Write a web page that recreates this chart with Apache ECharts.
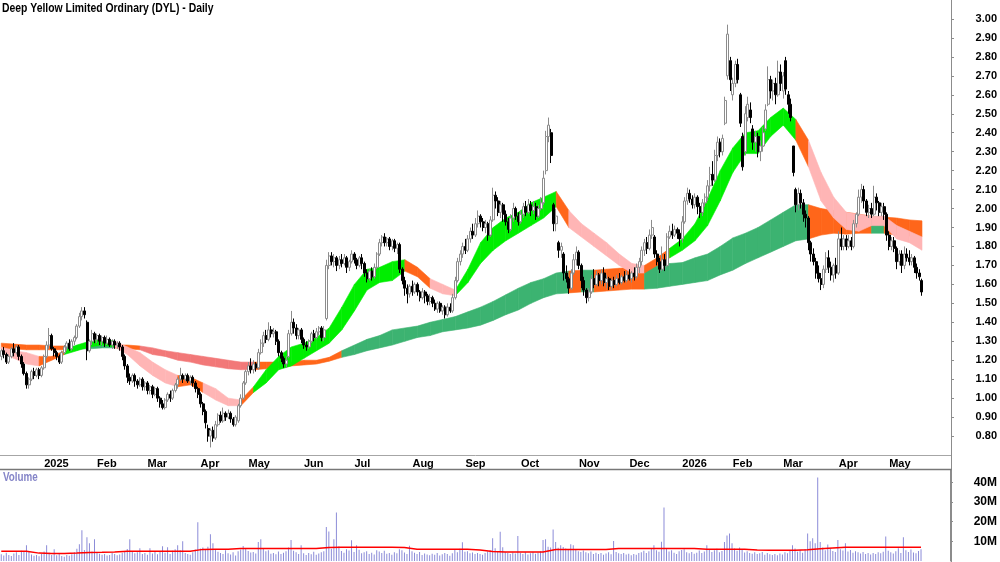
<!DOCTYPE html>
<html>
<head>
<meta charset="utf-8">
<script src="https://cdn.jsdelivr.net/npm/echarts@6/dist/echarts.min.js"></script>
<style>
html, body { margin: 0; padding: 0; background: #fff; }
#chart { width: 1000px; height: 562px; }
</style>
</head>
<body>
<div id="chart"></div>
<script>
// axis labels
const monthNames = ['Jan', 'Feb', 'Mar', 'Apr', 'May', 'Jun', 'Jul', 'Aug', 'Sep', 'Oct', 'Nov', 'Dec'];
// ASX closed days inside the range
const holidays = ['2024-12-25', '2024-12-26', '2025-01-01', '2025-01-27', '2025-04-18', '2025-04-21',
  '2025-04-25', '2025-06-09', '2025-12-25', '2025-12-26', '2026-01-01', '2026-01-26', '2026-04-03',
  '2026-04-06', '2026-06-08'];
const firstDay = '2024-12-05';
const axisDays = 377; // includes the empty room after the last bar

// daily candles: [open, close, low, high]
const ohlc = [
  [1.22,1.25,1.20,1.26],[1.25,1.23,1.21,1.27],[1.23,1.19,1.18,1.24],[1.19,1.22,1.18,1.23],[1.22,1.26,1.21,1.27],[1.26,1.24,1.22,1.29],[1.24,1.27,1.23,1.28],[1.27,1.22,1.20,1.28],[1.22,1.18,1.16,1.23],[1.18,1.13,1.12,1.19],
  [1.13,1.07,1.05,1.14],[1.07,1.10,1.05,1.11],[1.10,1.14,1.09,1.15],[1.14,1.12,1.10,1.16],[1.12,1.15,1.11,1.16],[1.15,1.12,1.10,1.16],[1.12,1.16,1.11,1.17],[1.16,1.22,1.15,1.23],[1.22,1.28,1.21,1.30],[1.28,1.33,1.26,1.37],
  [1.33,1.26,1.25,1.34],[1.26,1.24,1.22,1.27],[1.24,1.22,1.20,1.25],[1.22,1.19,1.18,1.23],[1.19,1.24,1.18,1.25],[1.24,1.27,1.23,1.28],[1.27,1.29,1.25,1.30],[1.29,1.26,1.25,1.31],[1.26,1.30,1.25,1.31],[1.30,1.32,1.28,1.33],
  [1.32,1.38,1.31,1.39],[1.38,1.43,1.37,1.45],[1.43,1.46,1.41,1.48],[1.46,1.44,1.42,1.48],[1.40,1.25,1.20,1.41],[1.25,1.30,1.24,1.31],[1.30,1.34,1.28,1.36],[1.34,1.31,1.29,1.35],[1.31,1.33,1.29,1.34],[1.33,1.30,1.28,1.34],
  [1.30,1.32,1.28,1.33],[1.32,1.29,1.27,1.33],[1.29,1.31,1.28,1.33],[1.31,1.28,1.27,1.32],[1.28,1.30,1.26,1.31],[1.30,1.28,1.26,1.31],[1.28,1.29,1.26,1.30],[1.29,1.27,1.25,1.30],[1.27,1.22,1.20,1.28],[1.22,1.17,1.15,1.23],
  [1.17,1.11,1.08,1.18],[1.11,1.09,1.07,1.13],[1.09,1.12,1.08,1.13],[1.12,1.09,1.06,1.13],[1.09,1.07,1.05,1.10],[1.07,1.10,1.06,1.11],[1.10,1.06,1.04,1.11],[1.06,1.08,1.04,1.09],[1.08,1.04,1.02,1.09],[1.04,1.06,1.02,1.07],
  [1.06,1.02,1.00,1.07],[1.02,1.05,1.01,1.06],[1.05,1.00,0.98,1.06],[1.00,0.97,0.95,1.01],[0.97,0.95,0.94,0.99],[0.95,0.99,0.94,1.00],[0.99,1.02,0.98,1.03],[1.02,1.00,0.98,1.04],[1.00,1.04,0.99,1.05],[1.04,1.07,1.03,1.08],
  [1.07,1.10,1.05,1.11],[1.10,1.12,1.09,1.16],[1.12,1.10,1.08,1.13],[1.10,1.12,1.09,1.13],[1.12,1.09,1.08,1.13],[1.09,1.11,1.07,1.12],[1.11,1.08,1.06,1.12],[1.08,1.05,1.03,1.09],[1.05,1.02,1.00,1.06],[1.02,0.97,0.95,1.03],
  [0.97,0.93,0.91,0.98],[0.93,0.87,0.84,0.94],[0.84,0.80,0.77,0.86],[0.80,0.83,0.74,0.84],[0.83,0.79,0.77,0.85],[0.79,0.86,0.78,0.88],[0.86,0.91,0.85,0.92],[0.91,0.88,0.87,0.93],[0.88,0.92,0.87,0.95],[0.92,0.90,0.88,0.93],
  [0.90,0.92,0.89,0.94],[0.92,0.89,0.87,0.93],[0.89,0.86,0.85,0.90],[0.86,0.90,0.85,0.91],[0.88,0.96,0.87,0.97],[0.96,1.00,0.95,1.02],[1.00,1.08,0.99,1.09],[1.08,1.14,1.07,1.15],[1.14,1.17,1.12,1.19],[1.17,1.15,1.13,1.21],
  [1.15,1.18,1.13,1.20],[1.18,1.16,1.14,1.19],[1.16,1.24,1.15,1.26],[1.24,1.29,1.23,1.31],[1.29,1.33,1.27,1.35],[1.33,1.31,1.29,1.36],[1.31,1.36,1.30,1.40],[1.36,1.34,1.32,1.38],[1.34,1.35,1.32,1.37],[1.35,1.30,1.28,1.36],
  [1.30,1.24,1.22,1.31],[1.24,1.21,1.19,1.25],[1.21,1.18,1.16,1.22],[1.18,1.20,1.16,1.22],[1.22,1.34,1.21,1.36],[1.34,1.40,1.33,1.46],[1.40,1.37,1.34,1.42],[1.37,1.33,1.31,1.39],[1.33,1.36,1.31,1.37],[1.36,1.31,1.29,1.37],
  [1.31,1.28,1.26,1.32],[1.28,1.27,1.25,1.30],[1.27,1.30,1.26,1.31],[1.30,1.34,1.29,1.35],[1.34,1.32,1.30,1.36],[1.32,1.35,1.31,1.37],[1.35,1.37,1.33,1.38],[1.37,1.32,1.30,1.38],[1.32,1.36,1.30,1.38],[1.42,1.70,1.41,1.73],
  [1.70,1.75,1.68,1.77],[1.75,1.72,1.70,1.77],[1.72,1.74,1.69,1.76],[1.74,1.70,1.67,1.75],[1.70,1.73,1.68,1.75],[1.73,1.71,1.69,1.76],[1.71,1.74,1.70,1.76],[1.74,1.69,1.66,1.75],[1.69,1.72,1.67,1.73],[1.72,1.76,1.71,1.78],
  [1.76,1.73,1.71,1.77],[1.73,1.70,1.68,1.74],[1.70,1.74,1.69,1.75],[1.74,1.71,1.68,1.76],[1.71,1.66,1.64,1.72],[1.66,1.63,1.61,1.68],[1.63,1.67,1.62,1.68],[1.67,1.64,1.62,1.69],[1.64,1.69,1.63,1.71],[1.69,1.76,1.68,1.77],
  [1.76,1.82,1.75,1.84],[1.82,1.85,1.80,1.86],[1.85,1.82,1.80,1.87],[1.82,1.84,1.80,1.85],[1.84,1.80,1.78,1.85],[1.80,1.83,1.78,1.84],[1.83,1.79,1.77,1.84],[1.79,1.81,1.76,1.82],[1.81,1.68,1.66,1.82],[1.68,1.62,1.60,1.69],
  [1.62,1.58,1.54,1.64],[1.58,1.55,1.50,1.60],[1.55,1.59,1.53,1.60],[1.59,1.56,1.54,1.62],[1.56,1.60,1.55,1.61],[1.60,1.56,1.54,1.61],[1.56,1.53,1.51,1.57],[1.53,1.56,1.52,1.58],[1.56,1.54,1.50,1.57],[1.54,1.51,1.49,1.55],
  [1.51,1.53,1.49,1.55],[1.53,1.50,1.48,1.54],[1.50,1.47,1.46,1.52],[1.47,1.50,1.45,1.51],[1.50,1.46,1.45,1.51],[1.46,1.48,1.44,1.49],[1.48,1.44,1.42,1.49],[1.44,1.48,1.43,1.50],[1.48,1.46,1.45,1.50],[1.46,1.53,1.45,1.55],
  [1.53,1.62,1.52,1.64],[1.62,1.72,1.61,1.74],[1.72,1.76,1.70,1.78],[1.76,1.80,1.74,1.82],[1.80,1.78,1.76,1.84],[1.78,1.84,1.77,1.86],[1.84,1.88,1.82,1.90],[1.88,1.86,1.84,1.92],[1.86,1.92,1.85,1.95],[1.92,1.96,1.90,1.99],
  [1.96,1.93,1.90,1.97],[1.93,1.90,1.88,1.95],[1.90,1.92,1.87,1.94],[1.92,1.86,1.83,1.93],[1.86,1.94,1.85,1.96],[1.94,2.07,1.93,2.11],[2.07,2.04,2.00,2.09],[2.04,1.98,1.96,2.06],[1.98,2.02,1.95,2.04],[2.02,1.97,1.93,2.03],
  [1.97,1.93,1.91,1.99],[1.93,1.89,1.87,1.95],[1.89,1.95,1.88,1.97],[1.95,2.00,1.93,2.03],[2.00,1.96,1.94,2.01],[1.96,1.93,1.91,1.98],[1.93,1.97,1.92,1.99],[1.97,2.01,1.95,2.03],[2.01,1.98,1.96,2.04],[1.98,2.02,1.97,2.05],
  [2.02,1.99,1.96,2.04],[1.99,2.01,1.97,2.04],[2.01,1.96,1.94,2.03],[1.96,2.00,1.95,2.02],[2.00,2.03,1.99,2.06],[2.03,2.16,2.02,2.20],[2.20,2.38,2.18,2.41],[2.38,2.44,2.35,2.48],[2.40,2.28,2.24,2.42],[2.02,1.92,1.88,2.03],
  [1.92,1.96,1.88,2.00],[1.82,1.78,1.74,1.83],[1.78,1.80,1.74,1.82],[1.76,1.66,1.62,1.77],[1.66,1.63,1.61,1.70],[1.63,1.58,1.55,1.64],[1.58,1.66,1.57,1.68],[1.66,1.73,1.65,1.76],[1.73,1.77,1.70,1.80],[1.77,1.70,1.68,1.78],
  [1.70,1.62,1.58,1.71],[1.62,1.57,1.54,1.64],[1.57,1.53,1.50,1.58],[1.53,1.56,1.51,1.58],[1.56,1.63,1.55,1.65],[1.63,1.60,1.58,1.68],[1.60,1.65,1.59,1.67],[1.65,1.62,1.59,1.66],[1.62,1.66,1.60,1.68],[1.66,1.61,1.59,1.69],
  [1.61,1.63,1.58,1.65],[1.63,1.59,1.57,1.64],[1.59,1.62,1.57,1.63],[1.62,1.60,1.58,1.64],[1.60,1.63,1.59,1.65],[1.63,1.61,1.60,1.66],[1.61,1.64,1.60,1.65],[1.64,1.62,1.61,1.67],[1.62,1.65,1.61,1.67],[1.65,1.63,1.62,1.68],
  [1.63,1.66,1.61,1.67],[1.66,1.64,1.62,1.69],[1.64,1.69,1.63,1.71],[1.69,1.72,1.66,1.74],[1.72,1.78,1.70,1.80],[1.78,1.82,1.75,1.84],[1.82,1.79,1.76,1.85],[1.79,1.86,1.78,1.89],[1.86,1.90,1.84,1.94],[1.85,1.76,1.74,1.86],
  [1.76,1.72,1.70,1.78],[1.72,1.68,1.66,1.74],[1.68,1.73,1.67,1.80],[1.73,1.70,1.67,1.76],[1.70,1.85,1.69,1.87],[1.85,1.88,1.84,1.91],[1.88,1.86,1.84,1.92],[1.86,1.89,1.85,1.91],[1.89,1.87,1.84,1.90],[1.87,1.84,1.80,1.89],
  [1.84,1.93,1.82,1.96],[1.93,2.04,1.92,2.06],[2.04,2.08,2.02,2.11],[2.08,2.05,2.03,2.10],[2.05,2.02,2.00,2.07],[2.02,2.06,2.00,2.08],[2.06,2.01,1.97,2.07],[2.01,1.98,1.95,2.03],[1.98,2.03,1.96,2.05],[2.03,2.06,2.01,2.08],
  [2.06,2.12,2.04,2.15],[2.12,2.18,2.09,2.22],[2.18,2.15,2.12,2.25],[2.15,2.28,2.14,2.31],[2.28,2.35,2.25,2.38],[2.35,2.30,2.27,2.37],[2.30,2.37,2.28,2.39],[2.45,2.57,2.44,2.59],[2.70,2.92,2.68,2.97],[2.78,2.68,2.62,2.80],
  [2.60,2.66,2.57,2.69],[2.66,2.76,2.64,2.78],[2.76,2.68,2.66,2.79],[2.60,2.45,2.43,2.61],[2.38,2.22,2.20,2.40],[2.30,2.50,2.28,2.54],[2.48,2.55,2.46,2.59],[2.52,2.48,2.45,2.56],[2.42,2.35,2.31,2.44],[2.35,2.38,2.30,2.41],
  [2.38,2.30,2.27,2.40],[2.30,2.33,2.25,2.36],[2.33,2.40,2.30,2.43],[2.42,2.52,2.41,2.55],[2.55,2.68,2.54,2.75],[2.68,2.62,2.58,2.70],[2.62,2.66,2.57,2.68],[2.66,2.60,2.55,2.69],[2.60,2.72,2.59,2.78],[2.72,2.66,2.62,2.76],
  [2.62,2.70,2.58,2.72],[2.78,2.63,2.60,2.80],[2.60,2.55,2.50,2.62],[2.55,2.48,2.46,2.58],[2.33,2.19,2.17,2.33],[2.10,2.02,1.98,2.11],[2.02,2.08,1.99,2.11],[2.08,2.03,2.00,2.10],[2.03,1.97,1.93,2.05],[1.97,1.95,1.90,1.99],
  [1.95,1.82,1.78,1.96],[1.82,1.76,1.72,1.83],[1.76,1.72,1.70,1.79],[1.72,1.66,1.63,1.74],[1.66,1.63,1.61,1.70],[1.63,1.60,1.57,1.66],[1.60,1.68,1.58,1.70],[1.68,1.74,1.66,1.77],[1.74,1.69,1.66,1.78],[1.69,1.65,1.62,1.72],
  [1.65,1.70,1.61,1.71],[1.70,1.66,1.63,1.74],[1.66,1.84,1.65,1.88],[1.84,1.80,1.78,1.90],[1.80,1.84,1.78,1.86],[1.84,1.80,1.78,1.86],[1.80,1.83,1.79,1.86],[1.83,1.80,1.78,1.85],[1.80,1.92,1.79,1.94],[1.92,1.97,1.90,1.98],
  [1.97,2.06,1.96,2.10],[2.06,2.10,2.03,2.13],[2.10,2.04,2.00,2.12],[2.04,1.98,1.96,2.05],[1.98,2.00,1.95,2.02],[2.00,1.97,1.95,2.03],[1.97,2.06,1.96,2.12],[2.06,2.03,1.99,2.08],[2.03,1.98,1.96,2.04],[1.98,2.01,1.96,2.03],
  [2.01,1.97,1.94,2.03],[1.97,1.86,1.83,1.98],[1.86,1.80,1.78,1.88],[1.80,1.83,1.78,1.85],[1.83,1.79,1.77,1.85],[1.79,1.72,1.68,1.80],[1.72,1.76,1.70,1.78],[1.76,1.70,1.66,1.78],[1.70,1.76,1.68,1.80],[1.76,1.74,1.72,1.79],
  [1.74,1.72,1.70,1.78],[1.72,1.74,1.70,1.76],[1.74,1.69,1.66,1.75],[1.69,1.66,1.63,1.71],[1.66,1.64,1.62,1.68],[1.62,1.56,1.54,1.63]
];

// daily volume, millions
const volume = [
  3.4,2.8,4.2,3.1,2.6,3.8,4.5,3.0,5.2,4.6, 8.0,5.1,3.3,2.7,3.0,2.4,3.6,4.8,8.0,4.2,
  3.1,6.0,2.9,3.5,2.6,2.2,3.0,2.7,3.4,4.4, 6.2,8.5,15.6,5.6,12.0,9.0,4.8,11.0,4.1,3.7,
  3.2,3.6,2.8,3.0,4.1,3.5,2.9,3.3,4.2,5.0, 6.1,11.0,4.8,3.9,4.4,6.5,3.6,4.0,3.2,6.5,
  3.8,4.6,3.4,5.1,7.5,4.2,7.0,3.6,5.2,6.0, 8.0,5.5,10.0,4.1,3.5,3.2,4.4,5.8,19.7,6.3,
  6.8,5.9,7.2,13.6,9.0,6.1,4.7,4.0,3.6,5.4, 3.9,3.3,4.5,2.8,5.0,5.8,7.6,6.2,5.1,4.3,
  4.6,3.8,9.7,11.0,6.4,4.9,5.5,3.7,4.1,3.4, 4.8,3.5,4.2,5.0,6.8,10.6,5.2,4.4,3.6,8.0,
  3.9,3.1,4.0,3.4,4.7,3.2,3.8,4.5,4.9,17.3, 15.0,6.2,11.0,24.6,7.5,5.1,4.2,6.0,5.3,10.5,
  4.6,8.0,5.7,3.9,4.4,5.0,3.6,4.2,3.3,5.5, 4.8,4.1,5.2,3.7,4.0,3.2,4.5,3.9,6.0,5.4,
  4.3,3.6,7.8,4.9,4.2,3.5,4.6,3.0,3.8,3.3, 2.9,3.7,3.2,4.1,2.8,3.4,4.0,3.6,2.7,3.9,
  5.8,4.4,6.2,9.5,4.7,5.0,3.9,4.3,3.5,4.1, 3.6,3.2,4.0,4.8,5.4,11.6,6.5,4.9,14.8,7.0,
  4.5,4.0,3.6,4.3,3.8,12.7,4.1,3.5,4.4,3.3, 3.9,4.6,3.7,4.2,5.0,10.6,11.0,7.2,6.8,16.0,
  9.6,6.7,8.0,7.1,6.3,5.9,8.5,8.0,5.6,4.9, 4.6,5.3,4.4,3.9,4.8,3.6,4.2,3.5,4.0,3.2,
  3.8,4.4,3.4,10.2,4.6,3.9,3.5,4.1,3.3,3.7, 2.9,3.6,3.2,4.0,4.5,5.2,4.1,5.0,6.6,8.0,
  5.4,4.7,9.8,27.1,6.1,4.8,5.5,4.2,3.6,4.9, 5.6,6.0,4.4,3.9,4.6,3.7,4.2,5.3,4.0,4.8,
  8.0,5.9,4.6,5.4,6.2,4.5,5.1,9.7,13.0,14.0, 9.0,6.4,5.2,6.8,5.6,4.3,5.0,4.1,3.7,4.4,
  3.5,3.9,4.6,3.2,4.0,3.4,3.0,3.6,2.9,3.8, 3.3,4.5,3.9,5.2,8.0,6.3,4.7,5.5,4.2,6.1,
  14.0,10.0,11.5,9.0,42.4,9.6,6.8,5.4,8.4,6.2, 5.1,4.6,10.6,6.0,5.3,9.0,4.8,5.6,4.2,5.0,
  4.4,3.8,4.6,3.5,4.1,3.3,4.0,3.6,4.5,3.9, 4.7,12.5,5.2,4.4,3.8,4.9,6.5,4.1,12.0,5.5,
  4.6,5.8,4.3,3.9,5.1,6.0
];

// bands and volume average, read every bandStep trading days
const bandStep = 5;
const shortHi = [1.27,1.25,1.24,1.22,1.22,1.25,1.28,1.30,1.31,1.30, 1.27,1.24,1.19,1.15,1.12,1.11,1.08,1.05,1.00,0.99,
  1.06,1.15,1.22,1.27,1.29,1.32,1.37,1.48,1.60,1.68, 1.69,1.72,1.73,1.69,1.63,1.60,1.57,1.68,1.82,1.90,
  1.95,1.98,2.03,2.06,2.09,1.99,1.92,1.87,1.82,1.76, 1.71,1.70,1.74,1.79,1.84,1.92,2.05,2.20,2.32,2.40,
  2.41,2.48,2.53,2.47,2.36,2.19,2.06,1.98,1.97,1.96, 1.96,1.91,1.88,1.85];
const shortLo = [1.24,1.21,1.18,1.17,1.20,1.23,1.25,1.27,1.28,1.27, 1.23,1.17,1.12,1.08,1.06,1.07,1.03,0.99,0.96,0.96,
  1.03,1.08,1.15,1.17,1.21,1.25,1.29,1.36,1.46,1.57, 1.61,1.62,1.67,1.64,1.58,1.55,1.54,1.61,1.71,1.78,
  1.83,1.87,1.91,1.95,2.01,1.90,1.85,1.80,1.75,1.70, 1.66,1.66,1.70,1.74,1.78,1.83,1.91,2.04,2.19,2.29,
  2.29,2.38,2.44,2.36,2.22,2.04,1.95,1.89,1.88,1.91, 1.91,1.84,1.82,1.78];
const longHi = [1.29,1.285,1.28,1.28,1.275,1.275,1.275,1.28,1.28,1.28, 1.28,1.275,1.265,1.25,1.24,1.23,1.22,1.21,1.20,1.19,
  1.19,1.19,1.19,1.19,1.20,1.20,1.215,1.25,1.28,1.31, 1.33,1.36,1.37,1.38,1.40,1.415,1.43,1.455,1.48,1.51,
  1.545,1.58,1.61,1.63,1.66,1.67,1.675,1.675,1.68,1.685, 1.69,1.69,1.70,1.71,1.715,1.74,1.76,1.80,1.845,1.87,
  1.90,1.94,1.98,2.02,2.02,2.00,1.99,1.98,1.97,1.96, 1.955,1.95,1.94,1.935];
const longLo = [1.26,1.26,1.255,1.255,1.255,1.255,1.26,1.26,1.265,1.265, 1.26,1.255,1.23,1.22,1.20,1.19,1.175,1.165,1.155,1.15,
  1.15,1.155,1.16,1.17,1.175,1.18,1.195,1.215,1.23,1.25, 1.265,1.28,1.30,1.32,1.33,1.35,1.36,1.37,1.385,1.41,
  1.44,1.465,1.50,1.53,1.55,1.555,1.56,1.56,1.565,1.57, 1.575,1.575,1.58,1.59,1.60,1.61,1.62,1.65,1.675,1.71,
  1.74,1.77,1.80,1.83,1.84,1.86,1.87,1.865,1.87,1.87, 1.87,1.86,1.855,1.85];
// colour of each band stretch: g rising, p falling, o turning, d long rising, r long falling
const shortColour = 'pppoogggg' + 'pppppoopppo' + 'gggggggggggg' + 'oopp' + 'gggggggg' + 'o' + 'pppppp' + 'oo' + 'gggggggggg' + 'o' + 'ppppppppp';
const longColour = 'ooooo' + 'dddd' + 'oo' + 'rrrrrrrrr' + 'ooooooo' + 'dddddddddddddddddd' + 'od' + 'oooo' + 'ddddddddddddd' + 'ooooo' + 'd' + 'ooo';
const volumeAvg = [5.0,5.0,5.0,4.0,3.8,3.8,4.0,4.3,4.4,4.6, 4.9,5.0,5.0,5.0,5.0,5.0,5.9,6.0,6.0,6.3,
  6.3,6.3,6.3,6.3,6.3,6.3,6.9,7.0,7.0,7.0, 7.0,7.0,6.9,6.0,6.0,6.0,6.0,6.0,5.6,4.8,
  4.6,4.6,4.6,4.6,5.8,5.8,5.8,5.8,5.9,6.4, 6.4,6.4,6.4,6.4,6.4,6.4,6.0,6.0,6.0,6.0,
  5.6,5.5,5.5,5.5,5.7,6.2,6.6,7.0,7.0,7.0, 7.0,7.0,7.0,7.0];

const palette = { g: '#00ee00', p: '#ffb5b5', o: '#ff661a', d: '#3cb371', r: '#f27878' };
const labelFont = 'Liberation Sans, Arial, sans-serif';

// trading day list for the category axis
const closed = new Set(holidays);
const dates = [];
let t = Date.parse(firstDay + 'T00:00:00Z');
while (dates.length < axisDays) {
  const d = new Date(t);
  const s = d.toISOString().slice(0, 10);
  if (d.getUTCDay() !== 0 && d.getUTCDay() !== 6 && !closed.has(s)) dates.push(s);
  t += 86400000;
}
const monthStart = new Set();
for (let i = 1; i < ohlc.length; i++) {
  if (dates[i].slice(5, 7) !== dates[i - 1].slice(5, 7)) monthStart.add(i);
}

function bandSeries(hi, lo, colours, z) {
  return {
    type: 'custom',
    z: z,
    clip: true,
    silent: true,
    data: hi.map((v, k) => [k * bandStep, v, lo[k]]),
    encode: { x: 0, y: [1, 2] },
    renderItem: (params, api) => {
      const k = params.dataIndex;
      if (k >= hi.length - 1) return null;
      const a = k * bandStep, b = (k + 1) * bandStep;
      const c = palette[colours[k]];
      return {
        type: 'polygon',
        shape: { points: [api.coord([a, lo[k]]), api.coord([b, lo[k + 1]]), api.coord([b, hi[k + 1]]), api.coord([a, hi[k]])] },
        style: { fill: c, stroke: c, lineWidth: 0.6 }
      };
    }
  };
}

const chart = echarts.init(document.getElementById('chart'));
chart.setOption({
  animation: false,
  grid: [
    { left: -2, right: 49, top: 0, height: 455 },
    { left: -2, right: 49, top: 470, height: 91 }
  ],
  xAxis: [
    {
      type: 'category', data: dates, gridIndex: 0, boundaryGap: true,
      axisLine: { lineStyle: { color: '#a6a6a6', width: 1 } },
      axisTick: { alignWithLabel: true, interval: i => monthStart.has(i), length: 3, lineStyle: { color: '#999' } },
      axisLabel: {
        interval: i => monthStart.has(i), align: 'left', margin: 3, hideOverlap: false,
        fontSize: 11, fontWeight: 'bold', color: '#000', fontFamily: labelFont,
        formatter: v => (v.slice(5, 7) === '01' ? v.slice(0, 4) : monthNames[+v.slice(5, 7) - 1])
      },
      splitLine: { show: false }
    },
    {
      type: 'category', data: dates, gridIndex: 1, boundaryGap: true,
      axisLine: { show: false }, axisTick: { show: false }, axisLabel: { show: false }, splitLine: { show: false }
    }
  ],
  yAxis: [
    {
      type: 'value', gridIndex: 0, position: 'right', min: 0.7, max: 3.1, interval: 0.1,
      axisLine: { show: true, lineStyle: { color: '#8c8c8c' } },
      axisTick: { show: true, length: 3, lineStyle: { color: '#8c8c8c' } },
      axisLabel: {
        showMinLabel: false, showMaxLabel: false, align: 'right', margin: 46,
        fontSize: 11, fontWeight: 'bold', color: '#000', fontFamily: labelFont,
        formatter: v => v.toFixed(2)
      },
      splitLine: { show: false }
    },
    {
      type: 'value', gridIndex: 1, position: 'right', min: 0, max: 46.2, interval: 10,
      axisLine: { show: true, lineStyle: { color: '#8c8c8c' } },
      axisTick: { show: true, length: 3, lineStyle: { color: '#8c8c8c' } },
      axisLabel: {
        showMinLabel: false, showMaxLabel: false, align: 'right', margin: 47,
        fontSize: 12, fontWeight: 'bold', color: '#000', fontFamily: labelFont,
        formatter: v => v + 'M'
      },
      splitLine: { show: false }
    }
  ],
  graphic: [
    { type: 'line', shape: { x1: 951.5, y1: 0, x2: 951.5, y2: 562 }, style: { stroke: '#8c8c8c', lineWidth: 1 }, z: 50 },
    { type: 'line', shape: { x1: 0, y1: 469.5, x2: 951.5, y2: 469.5 }, style: { stroke: '#777', lineWidth: 1.5 }, z: 50 },
    // title and panel name are drawn a little condensed, like the source
    { type: 'text', x: 2, y: 2, scaleX: 0.8, style: { text: 'Deep Yellow Limited Ordinary (DYL) - Daily', fill: '#000', font: 'bold 13px ' + labelFont }, z: 50 },
    { type: 'text', x: 3, y: 472, scaleX: 0.82, style: { text: 'Volume', fill: '#8585c8', font: 'bold 12px ' + labelFont }, z: 50 }
  ],
  series: [
    bandSeries(longHi, longLo, longColour, 1),
    bandSeries(shortHi, shortLo, shortColour, 2),
    {
      type: 'candlestick', xAxisIndex: 0, yAxisIndex: 0, z: 5,
      data: ohlc, barWidth: 2.5,
      itemStyle: { color: '#ffffff', color0: '#000000', borderColor: '#8c8c8c', borderColor0: '#000000', borderWidth: 1 }
    },
    {
      type: 'bar', xAxisIndex: 1, yAxisIndex: 1, data: volume, barWidth: 1,
      itemStyle: { color: '#8c8cd8' }, silent: true
    },
    {
      type: 'line', xAxisIndex: 1, yAxisIndex: 1, z: 4,
      data: volumeAvg.map((v, k) => [k * bandStep, v]),
      symbol: 'none', lineStyle: { color: '#ff0000', width: 1.5 }, silent: true
    }
  ]
});
</script>
</body>
</html>
